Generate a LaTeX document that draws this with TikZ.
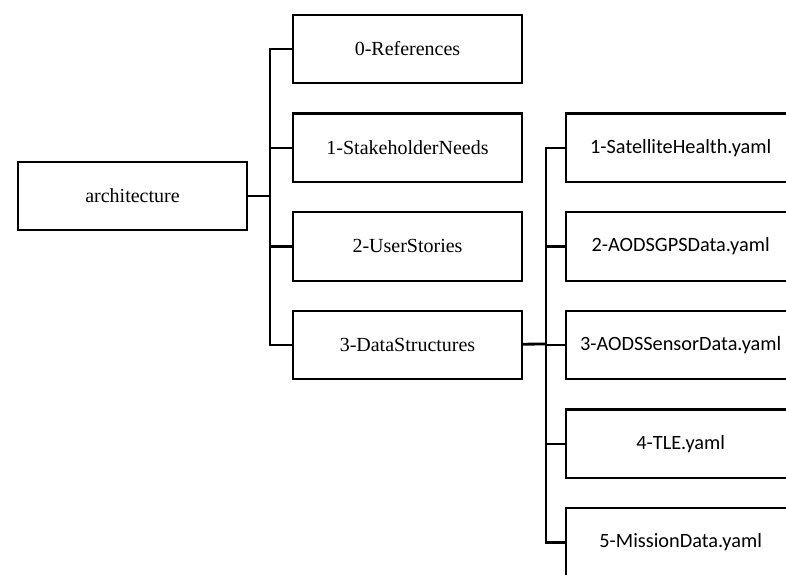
\documentclass[tikz,border=0pt]{standalone}
\usepackage{fontspec}
\setmainfont{Liberation Serif}
\newfontfamily\yamlfont{Carlito}
\usetikzlibrary{positioning}

\begin{document}
\begin{tikzpicture}[
  x=1pt, y=-1pt,
  folder/.style={rectangle, draw=black, line width=2.2pt, minimum width=229pt, minimum height=68.5pt, font=\fontsize{20}{23}\selectfont, text centered},
  yamlfile/.style={folder, font=\yamlfont\fontsize{20.3}{24}\selectfont},
  conn/.style={line width=2.2pt, color=black},
  node distance=28pt,
]
\useasboundingbox (0,0) rectangle (786,574);
\clip (0,0) rectangle (786,574);

\node[folder] (arch) at (132.5,196) {architecture};

\node[folder] (refs) at (407.5,49) {0-References};
\node[folder, below=of refs] (needs) {1-StakeholderNeeds};
\node[folder, below=of needs] (stories) {2-UserStories};
\node[folder, below=of stories] (datastruct) {3-DataStructures};

\node[yamlfile, right=42pt of needs] (health) {1-SatelliteHealth.yaml};
\node[yamlfile, below=of health] (gps) {2-AODSGPSData.yaml};
\node[yamlfile, below=of gps] (sensor) {3-AODSSensorData.yaml};
\node[yamlfile, below=of sensor] (tle) {4-TLE.yaml};
\node[yamlfile, below=of tle] (mission) {5-MissionData.yaml};

% first level
\coordinate (busA) at (270,196);
\draw[conn] (arch) -- (busA);
\foreach \n in {refs,needs,stories,datastruct}
  \draw[conn] (busA) |- (\n.west);

% data structure files
\coordinate (busB) at (546,344);
\draw[conn, line width=2.8pt] (datastruct) -- (busB);
\foreach \n in {health,gps,sensor,tle,mission}
  \draw[conn] (busB) |- (\n.west);
\end{tikzpicture}
\end{document}
